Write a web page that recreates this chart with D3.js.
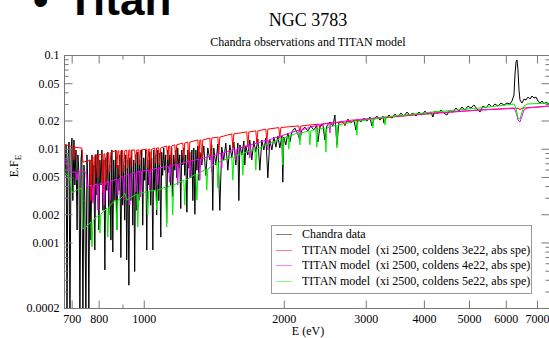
<!DOCTYPE html>
<html><head><meta charset="utf-8">
<script src="https://cdn.jsdelivr.net/npm/d3@7"></script>
<style>body{margin:0;background:#fff}svg{display:block}</style>
</head><body><svg id="c" width="549" height="338"></svg>
<script>
// ---- data: [energy eV, E.F_E] ----
const chandra = [
[674,.0097],[677,.0052],[681,.0110],[684,.00015],[687,.0076],[691,.0118],[694,.00015],[698,.0097],[701,.0130],[704,.0028],[708,.0124],[711,.0041],[715,.0097],[719,.00136],[722,.0086],[726,.0052],[729,.00015],[733,.0076],[736,.0097],[740,.00015],[744,.0067],[747,.0028],[751,.00015],[755,.0086],[759,.0036],[762,.00015],[766,.0076],[770,.00106],[774,.0086],[778,.0028],[781,.0067],[785,.00083],[789,.0086],[793,.0032],[797,.0097],[801,.00136],[805,.0076],[809,.0041],[813,.0097],[817,.0022],[821,.0076],[825,.00051],[829,.0080],[833,.0036],[837,.0092],[841,.00196],[845,.0067],[850,.00106],[854,.0097],[858,.00079],[862,.0076],[867,.0028],[871,.0097],[875,.00136],[880,.0067],[884,.0036],[888,.0086],[893,.00069],[897,.0097],[901,.0025],[906,.0067],[910,.00173],[915,.0086],[919,.00065],[924,.0076],[929,.00035],[933,.0080],[938,.0028],[942,.0097],[947,.00153],[952,.0076],[956,.00049],[961,.0086],[966,.0022],[971,.0092],[976,.0028],[980,.0076],[985,.0036],[990,.0097],[995,.00153],[1000,.0080],[1005,.0046],[1010,.0097],[1015,.00083],[1020,.0076],[1025,.0041],[1030,.0092],[1035,.0025],[1040,.0080],[1046,.00083],[1051,.0097],[1056,.0036],[1061,.0086],[1066,.00196],[1072,.0097],[1077,.0028],
[1082,.0090],[1088,.00114],[1093,.0092],[1098,.0052],[1104,.0102],[1109,.0059],[1115,.0086],[1120,.0016],[1126,.0097],[1131,.0056],[1137,.0086],[1143,.0041],[1148,.0102],[1154,.0031],[1160,.0086],[1166,.0059],[1172,.0097],[1177,.0049],[1183,.0102],[1189,.0062],[1195,.0086],[1201,.0023],[1207,.0097],[1213,.0067],[1219,.0102],[1225,.0052],[1231,.0086],[1238,.0021],[1244,.0097],[1250,.0062],[1256,.0092],[1262,.0049],[1269,.0097],[1275,.0028],[1281,.0102],[1288,.0020],[1294,.0097],[1301,.0059],[1307,.0107],[1314,.0046],[1320,.0092],
[1333,.0067],[1346,.0107],[1359,.0052],[1373,.0102],[1387,.0076],[1400,.0110],[1407,.0022],[1414,.0102],[1428,.0067],[1443,.0112],[1457,.0022],[1471,.0104],[1486,.0076],[1501,.0115],[1516,.0059],[1531,.0110],[1546,.0080],[1562,.0118],[1577,.0067],[1593,.0115],[1601,.0028],[1609,.0110],[1625,.0086],[1641,.0121],[1649,.0067],[1657,.0107],[1674,.0086],[1690,.0124],[1707,.0076],[1724,.0121],[1741,.0092],[1759,.0127],[1776,.0059],[1794,.0124],[1812,.0097],[1830,.0130],[1848,.0049],[1866,.0124],[1885,.0097],[1904,.0133],[1923,.0104],[1942,.0137],[1961,.0102],[1981,.0137],[1990,.0044],[2000,.0133],[2020,.0110],[2040,.0147],[2061,.0118],
[2081,.0151],[2112,.0166],[2144,.0144],[2165,.0124],[2187,.0158],[2219,.0170],[2253,.0155],[2286,.0175],[2321,.0158],[2355,.0179],[2367,.0118],[2391,.0170],[2426,.0183],[2451,.0124],[2475,.0175],[2512,.0193],[2550,.0175],[2575,.0229],[2601,.0110],[2626,.0188],[2666,.0197],[2706,.0179],[2746,.0207],[2787,.0188],[2829,.0202],[2857,.0158],[2886,.0207],[2929,.0193],[2973,.0212],[3017,.0197],[3062,.0218],[3093,.0175],[3123,.0207],[3170,.0223],[3218,.0202],[3266,.0223],[3282,.0188],[3315,.0212],[3364,.0229],[3414,.0212],[3466,.0234],[3518,.0218],[3570,.0240],[3624,.0223],[3678,.0246],[3733,.0229],[3789,.0240],[3845,.0223],[3903,.0246],[3961,.0229],[4021,.0252],[4081,.0234],[4142,.0246],[4183,.0218],[4225,.0252],
[4288,.0240],[4352,.0259],[4417,.0240],[4483,.0229],[4550,.0259],[4618,.0246],[4688,.0272],[4758,.0252],[4829,.0279],[4901,.0259],[4975,.0285],[5049,.0272],[5125,.0293],[5202,.0265],[5279,.0246],[5358,.0285],[5438,.0272],[5520,.0300],[5602,.0279],[5686,.0300],[5771,.0285],[5858,.0307],[5945,.0293],[6034,.0307],[6125,.0300],[6186,.0323],[6247,.0374],[6278,.0612],[6310,.0842],[6341,.0885],[6372,.0692],[6404,.0423],[6436,.0331],[6500,.0307],[6564,.0339],[6630,.0331],[6696,.0356],[6762,.0339],[6830,.0365],[6898,.0347],[6966,.0356],[7035,.0323],[7105,.0307],[7176,.0323],[7248,.0300],[7320,.0315],[7429,.0300]
];
const titan3e22 = [
[674,.0112],[694,.0107],[704,.0104],[708,.0076],[711,.0104],[729,.0102],[736,.0102],[740,.0072],[759,.0074],[766,.0076],[770,.0028],[774,.0080],[778,.0082],[781,.0034],[785,.0086],[793,.0086],[797,.0049],[801,.0086],[813,.0088],[817,.0034],[821,.0088],[825,.0088],[829,.0041],[833,.0090],[841,.0090],[845,.0056],[850,.0092],[871,.0095],[875,.0062],[880,.0095],[884,.0095],[888,.0052],[893,.0095],[901,.0095],[906,.0056],[910,.0095],[919,.0097],[924,.0062],[929,.0097],[933,.0097],[938,.0065],[942,.0097],[956,.0097],[961,.0070],[966,.0097],[976,.0097],[980,.0067],[985,.0097],[1015,.0099],[1020,.0062],[1025,.0099],[1030,.0099],[1035,.0056],[1040,.0099],[1056,.0102],[1061,.0070],[1066,.0102],[1077,.0102],[1082,.0067],[1088,.0102],[1120,.0107],[1126,.0076],[1131,.0107],[1137,.0107],[1143,.0067],[1148,.0107],[1166,.0110],[1172,.0070],[1177,.0110],[1213,.0115],[1219,.0080],[1225,.0115],[1244,.0118],[1250,.0070],[1256,.0118],[1307,.0124],[1314,.0080],[1320,.0124],[1326,.0124],[1333,.0076],[1339,.0124],[1387,.0130],[1393,.0082],[1400,.0130],[1443,.0133],[1450,.0090],[1457,.0133],[1546,.0144],[1554,.0102],[1562,.0144],[1665,.0151],[1674,.0104],[1682,.0151],[1741,.0155],[1750,.0115],[1759,.0155],[1830,.0162],[1839,.0118],[1848,.0162],[1951,.0168],[1961,.0130],[1971,.0168],[2061,.0172],[2154,.0175],[2165,.0151],[2176,.0175],[2379,.0183],[2391,.0166],[2402,.0183],[2692,.0193],[2706,.0175],[2719,.0193],[3000,.0205],[3922,.0232],[5279,.0259],[6310,.0270],[6372,.0270],[6436,.0262],[6500,.0271],[7429,.0285]
];
const titan4e22 = [
[674,.00815],[681,.0072],[687,.00653],[694,.00592],[698,.00563],[715,.00563],[719,.00463],[722,.00563],[736,.00577],[751,.00563],[755,.00399],[762,.00399],[774,.0041],[778,.00262],[781,.0041],[793,.00419],[797,.00222],[801,.00419],[817,.0043],[821,.00251],[825,.0043],[841,.00451],[846,.00283],[850,.00451],[875,.00474],[880,.0032],[884,.00474],[902,.0051],[906,.00283],[910,.0051],[929,.00536],[933,.00251],[938,.00536],[957,.00563],[961,.00344],[966,.00563],[980,.00577],[985,.00305],[990,.00577],[1025,.00592],[1030,.00362],[1035,.00592],[1066,.00621],[1072,.0041],[1077,.00621],[1131,.00653],[1137,.0044],[1143,.00653],[1177,.00686],[1183,.0041],[1189,.00686],[1250,.00738],[1256,.00486],[1262,.00738],[1314,.00776],[1320,.00463],[1326,.00776],[1393,.00835],[1400,.00563],[1407,.00835],[1464,.00899],[1471,.00621],[1479,.00899],[1570,.0099],[1577,.00757],[1585,.0099],[1682,.011],[1690,.00795],[1699,.011],[1839,.0124],[1848,.00968],[1857,.0124],[2061,.0147],[2154,.0158],[2165,.0124],[2176,.0158],[2367,.0179],[2500,.0188],[2512,.0147],[2525,.0188],[2801,.0202],[3299,.0218],[4162,.024],[5279,.0259],[6247,.0272],[6310,.0246],[6372,.0202],[6436,.0193],[6500,.0223],[6564,.0259],[6663,.0272],[7429,.0285]
];
const titan5e22 = [
[674,.00563],[681,.00536],[694,.00486],[701,.00344],[708,.00344],[722,.00371],[736,.0038],[740,.00139],[759,.00153],[770,.00165],[774,.0009],[778,.00169],[785,.00181],[801,.00196],[805,.00126],[809,.00201],[833,.00232],[837,.00114],[841,.00238],[854,.00262],[871,.00283],[875,.00136],[880,.00283],[893,.00297],[902,.00312],[910,.00336],[920,.00283],[933,.00297],[966,.00328],[971,.00146],[976,.00328],[1005,.00344],[1015,.00353],[1020,.00196],[1025,.00353],[1061,.00362],[1066,.00222],[1072,.00362],[1115,.0039],[1120,.00146],[1126,.0039],[1148,.0041],[1154,.00196],[1160,.0041],[1219,.00463],[1225,.00251],[1231,.00463],[1294,.00536],[1301,.00283],[1307,.00536],[1359,.00606],[1366,.00362],[1373,.00606],[1436,.0072],[1443,.0038],[1450,.0072],[1546,.00815],[1554,.00463],[1562,.00815],[1625,.00899],[1633,.00524],[1641,.00899],[1733,.0099],[1741,.00592],[1750,.0099],[1981,.013],[1990,.00669],[2000,.013],[2040,.0137],[2050,.0099],[2061,.014],[2154,.0147],[2165,.011],[2176,.0147],[2265,.0155],[2275,.011],[2286,.0155],[2343,.0162],[2355,.0104],[2367,.0162],[2451,.0166],[2463,.00922],[2475,.0166],[2588,.0179],[2601,.0102],[2613,.0179],[2857,.0197],[2871,.014],[2886,.0197],[3093,.0207],[3108,.0166],[3123,.0207],[3282,.0218],[3299,.0179],[3315,.0218],[4162,.0246],[5279,.0272],[6247,.03],[6310,.0272],[6372,.0212],[6436,.0207],[6500,.0246],[6564,.0285],[6663,.03],[7429,.0307]
];
const xTicksMajor = [700,800,1000,2000,3000,4000,5000,6000,7000];
const xTicksMinor = [900];
const yTicksMajor = [0.1,0.05,0.02,0.01,0.005,0.002,0.001,0.0002];
const yTickLabels = ["0.1","0.05","0.02","0.01","0.005","0.002","0.001","0.0002"];
const yTicksMinor = [0.09,0.08,0.07,0.06,0.04,0.03,0.009,0.008,0.007,0.006,0.004,0.003,0.0009,0.0008,0.0007,0.0006,0.0005,0.0004,0.0003];
const seriesNames = ["Chandra data","TITAN model  (xi 2500, coldens 3e22, abs spe)","TITAN model  (xi 2500, coldens 4e22, abs spe)","TITAN model  (xi 2500, coldens 5e22, abs spe)"];
const seriesColors = ["#000000","#ff0000","#ff00ff","#00ee00"];
const legendColors = ["#808080","#ff8080","#ff80ff","#80ff80"];

// ---- drawing ----
const L=64,T=55,R=550,B=308;
const svg = d3.select("#c");
const serif = "'Liberation Serif','Times New Roman',serif";
const x = d3.scaleLog().domain([673.9,7466]).range([L,R]);
const y = d3.scaleLog().domain([0.0002,0.1]).range([B,T]);

svg.append("text").attr("x",33).attr("y",15).attr("font-family","'Liberation Sans',Arial,sans-serif")
  .attr("font-weight","bold").attr("font-size",44).text("•");
svg.append("text").attr("x",67).attr("y",15).attr("font-family","'Liberation Sans',Arial,sans-serif")
  .attr("font-weight","bold").attr("font-size",44).text("Titan");
svg.append("text").attr("x",308).attr("y",26).attr("text-anchor","middle").attr("font-family",serif)
  .attr("font-size",18).text("NGC 3783");
svg.append("text").attr("x",308).attr("y",46).attr("text-anchor","middle").attr("font-family",serif)
  .attr("font-size",12).text("Chandra observations and TITAN model");

svg.append("defs").append("clipPath").attr("id","clip").append("rect")
  .attr("x",L).attr("y",T).attr("width",R-L).attr("height",B-T);

const line = d3.line().x(d=>x(d[0])).y(d=>y(d[1]));
const g = svg.append("g").attr("clip-path","url(#clip)");
[chandra,titan3e22,titan4e22,titan5e22].forEach((s,i)=>{
  g.append("path").datum(s).attr("d",line).attr("fill","none")
   .attr("stroke",seriesColors[i]).attr("stroke-width",1).attr("stroke-linejoin","miter");
});

function styleAxis(sel){
  sel.select(".domain").remove();
  sel.selectAll(".tick line").attr("stroke","#777");
  sel.selectAll("text").attr("font-family",serif).attr("font-size",12).attr("fill","#000");
}
svg.append("g").attr("transform",`translate(0,${B+0.5})`)
  .call(d3.axisBottom(x).tickValues(xTicksMajor).tickFormat(d3.format("d")).tickSize(-8).tickPadding(6)).call(styleAxis);
svg.append("g").attr("transform",`translate(0,${B+0.5})`)
  .call(d3.axisBottom(x).tickValues(xTicksMinor).tickFormat("").tickSize(-4)).call(styleAxis);
svg.append("g").attr("transform",`translate(0,${T+0.5})`)
  .call(d3.axisTop(x).tickValues(xTicksMajor).tickFormat("").tickSize(-8)).call(styleAxis);
svg.append("g").attr("transform",`translate(0,${T+0.5})`)
  .call(d3.axisTop(x).tickValues(xTicksMinor).tickFormat("").tickSize(-4)).call(styleAxis);
svg.append("g").attr("transform",`translate(${L+0.5},0)`)
  .call(d3.axisLeft(y).tickValues(yTicksMajor).tickFormat((d,i)=>yTickLabels[i]).tickSize(-8).tickPadding(5)).call(styleAxis);
svg.append("g").attr("transform",`translate(${L+0.5},0)`)
  .call(d3.axisLeft(y).tickValues(yTicksMinor).tickFormat("").tickSize(-4)).call(styleAxis);
svg.append("g").attr("transform",`translate(${R-0.5},0)`)
  .call(d3.axisRight(y).tickValues(yTicksMajor).tickFormat("").tickSize(-8)).call(styleAxis);
svg.append("g").attr("transform",`translate(${R-0.5},0)`)
  .call(d3.axisRight(y).tickValues(yTicksMinor).tickFormat("").tickSize(-4)).call(styleAxis);
svg.append("rect").attr("x",L+0.5).attr("y",T+0.5).attr("width",R-L-1).attr("height",B-T)
  .attr("fill","none").attr("stroke","#777");

svg.append("text").attr("x",308).attr("y",335).attr("text-anchor","middle")
  .attr("font-family",serif).attr("font-size",12).text("E (eV)");
const yl = svg.append("text").attr("transform","translate(18,166) rotate(-90)").attr("text-anchor","middle")
  .attr("font-family",serif).attr("font-size",12);
yl.append("tspan").text("E.F");
yl.append("tspan").attr("font-size",9).attr("dy",3).text("E");

const lg = svg.append("g");
lg.append("rect").attr("x",271.5).attr("y",225.5).attr("width",260).attr("height",68)
  .attr("fill","#fff").attr("stroke","#999");
const rows=[234,249.5,265,280.5];
seriesNames.forEach((n,i)=>{
  lg.append("line").attr("x1",276).attr("x2",292).attr("y1",Math.round(rows[i])+0.5).attr("y2",Math.round(rows[i])+0.5)
    .attr("stroke",legendColors[i]).attr("stroke-width",1);
  lg.append("text").attr("x",302).attr("y",rows[i]+4).attr("font-family",serif).attr("font-size",12)
    .style("white-space","pre").text(n);
});
</script></body></html>
